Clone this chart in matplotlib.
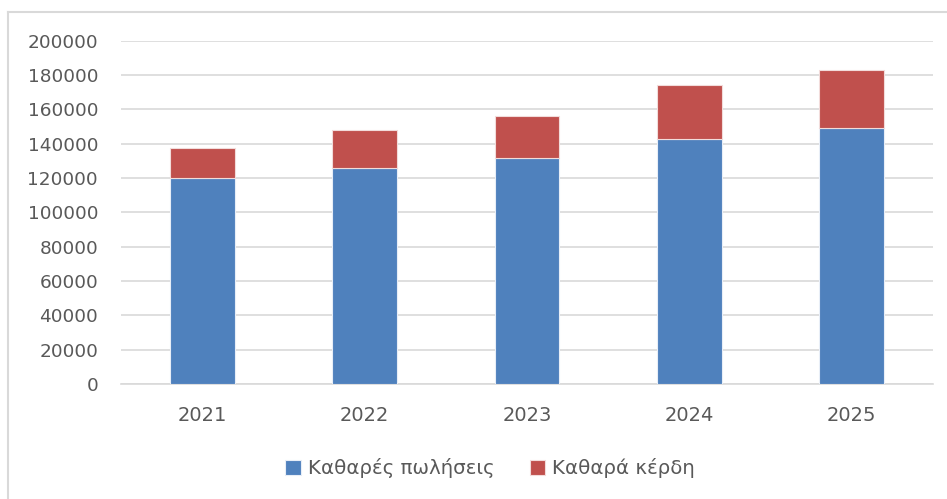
import matplotlib
matplotlib.use("Agg")
import matplotlib.pyplot as plt
from matplotlib.lines import Line2D
import numpy as np

years = ["2021", "2022", "2023", "2024", "2025"]
net_sales = [120200, 126000, 131800, 142700, 149300]
net_profit = [17500, 21700, 24500, 31200, 33800]
series_names = ["Καθαρές πωλήσεις", "Καθαρά κέρδη"]
yticks = [0, 20000, 40000, 60000, 80000, 100000, 120000, 140000, 160000, 180000, 200000]

W, H = 947, 499
fig = plt.figure(figsize=(W / 100, H / 100), dpi=100)
plt.rcParams['font.family'] = ['DejaVu Sans']
txt = "#595959"

ax = fig.add_axes([121 / W, 1 - 384 / H, (933 - 121) / W, (384 - 40.5) / H])
x = np.arange(len(years))
b1 = ax.bar(x, net_sales, width=0.4, color="#4f81bd", edgecolor="#e8eef7", linewidth=0.8, zorder=3,
            label=series_names[0])
b2 = ax.bar(x, net_profit, bottom=net_sales, width=0.4, color="#c0504d", edgecolor="#f2dcdb",
            linewidth=0.8, zorder=3, label=series_names[1])

ax.set_xlim(-0.5, len(years) - 0.5)
ax.set_ylim(0, 200000)
ax.set_yticks(yticks)
ax.set_yticklabels([str(v) for v in yticks])
ax.set_xticks(x)
ax.set_xticklabels(years)
ax.grid(axis="y", color="#d9d9d9", linewidth=1.2, zorder=0)
for s in ["top", "right", "left"]:
    ax.spines[s].set_visible(False)
ax.spines["bottom"].set_color("#d9d9d9")
ax.spines["bottom"].set_linewidth(1.2)
ax.tick_params(axis="y", length=0, labelsize=13.3, labelcolor=txt, pad=16.5)
ax.tick_params(axis="x", length=0, labelsize=14, labelcolor=txt, pad=16)

leg = fig.legend(handles=[b1, b2], labels=series_names, loc="center",
                 bbox_to_anchor=(490 / W, 1 - 468 / H), ncol=2, frameon=False,
                 fontsize=14.2, labelcolor=txt, handlelength=0.8, handleheight=0.8,
                 handletextpad=0.35, columnspacing=1.8)

# outer chart border (top and left visible)
fig.add_artist(Line2D([8 / W, 1], [1 - 12 / H, 1 - 12 / H], transform=fig.transFigure,
                      color="#d9d9d9", linewidth=1.5))
fig.add_artist(Line2D([8 / W, 8 / W], [0, 1 - 12 / H], transform=fig.transFigure,
                      color="#d9d9d9", linewidth=1.5))

fig.savefig("out.png", dpi=100)
